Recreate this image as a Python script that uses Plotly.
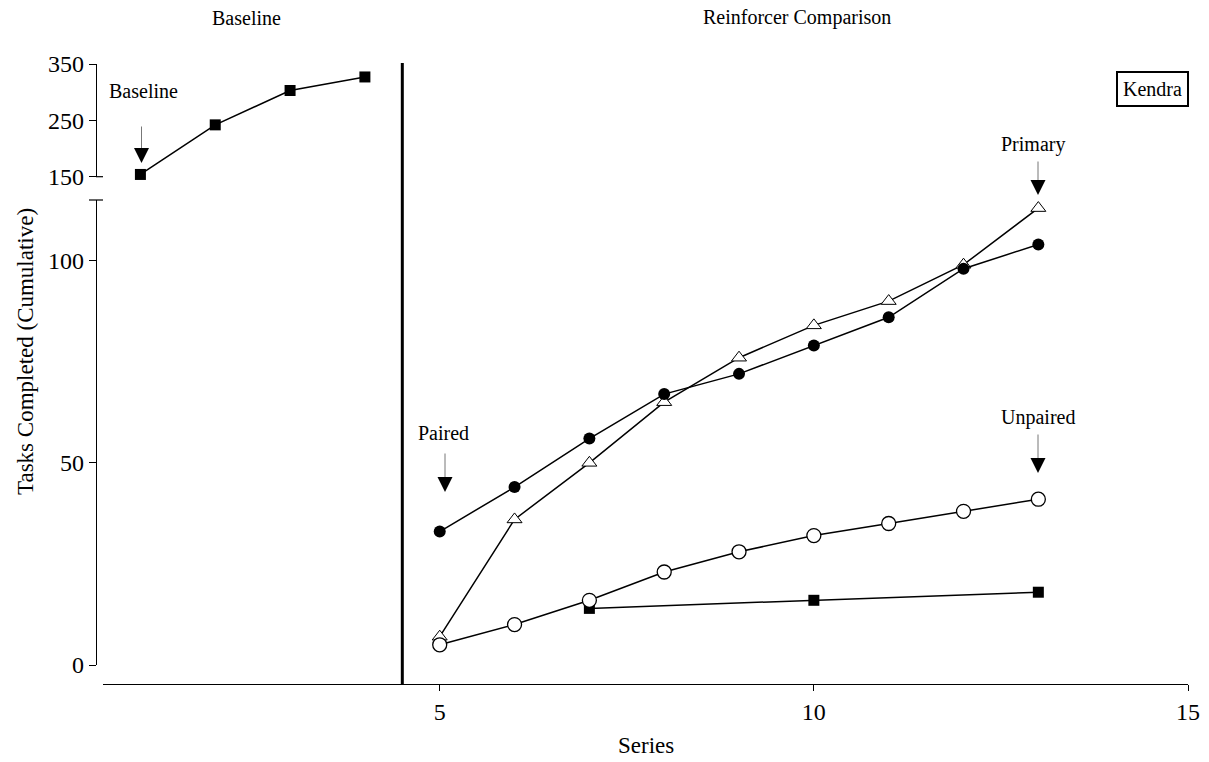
import plotly.graph_objects as go

W, H = 1209, 762
FONT = "Liberation Serif"

# ---- data ----
baseline_x = [1, 2, 3, 4]
baseline_y = [154, 242, 303, 327]

series_x = [5, 6, 7, 8, 9, 10, 11, 12, 13]
paired_y = [33, 44, 56, 67, 72, 79, 86, 98, 104]
primary_y = [7, 36, 50, 65, 76, 84, 90, 99, 113]
unpaired_y = [5, 10, 16, 23, 28, 32, 35, 38, 41]

control_x = [7, 10, 13]
control_y = [14, 16, 18]

x_ticks = [5, 10, 15]
y_low_ticks = [0, 50, 100]
y_high_ticks = [150, 250, 350]


def px(x):
    return x / W


def py(y):
    return 1 - y / H


fig = go.Figure()

line_style = dict(color="black", width=1.5)

fig.add_trace(go.Scatter(x=baseline_x, y=baseline_y, xaxis="x", yaxis="y2",
                         mode="lines+markers", line=line_style,
                         marker=dict(symbol="square", size=11, color="black"),
                         name="Baseline", showlegend=False, cliponaxis=False))
fig.add_trace(go.Scatter(x=control_x, y=control_y, mode="lines+markers", line=line_style,
                         marker=dict(symbol="square", size=11, color="black"),
                         name="Control", showlegend=False))
fig.add_trace(go.Scatter(x=series_x, y=primary_y, mode="lines+markers", line=line_style,
                         marker=dict(symbol="triangle-up", size=13, color="white",
                                     line=dict(color="black", width=1)),
                         name="Primary", showlegend=False, cliponaxis=False))
fig.add_trace(go.Scatter(x=series_x, y=paired_y, mode="lines+markers", line=line_style,
                         marker=dict(symbol="circle", size=12, color="black"),
                         name="Paired", showlegend=False, cliponaxis=False))
fig.add_trace(go.Scatter(x=series_x, y=unpaired_y, mode="lines+markers", line=line_style,
                         marker=dict(symbol="circle", size=14, color="white",
                                     line=dict(color="black", width=1.3)),
                         name="Unpaired", showlegend=False, cliponaxis=False))

tickfont = dict(family=FONT, size=24, color="black")
axis_common = dict(showgrid=False, zeroline=False, automargin=False,
                   showline=True, linecolor="black", linewidth=1.3,
                   ticks="outside", tickwidth=1.2, tickcolor="black",
                   tickfont=tickfont)

fig.update_layout(
    width=W, height=H,
    margin=dict(l=0, r=0, t=0, b=0, pad=0),
    paper_bgcolor="white", plot_bgcolor="white",
    font=dict(family=FONT, color="black"),
    xaxis=dict(domain=[px(103), px(1188)], range=[0.5, 15], anchor="free",
               position=py(684), ticklen=6, tickvals=x_ticks, **axis_common),
    yaxis=dict(domain=[py(665), py(200)], range=[0, 115], anchor="free",
               position=px(96), ticklen=7, tickvals=y_low_ticks, **axis_common),
    yaxis2=dict(domain=[py(176.7), py(64)], range=[150, 350], anchor="free",
                position=px(96), ticklen=7, tickvals=y_high_ticks, **axis_common),
)

# phase change line and axis-break caps
fig.add_shape(type="line", xref="x", yref="paper", x0=4.5, x1=4.5,
              y0=py(684), y1=py(63), line=dict(color="black", width=3))
fig.add_shape(type="line", xref="paper", yref="paper", x0=px(96), x1=px(103),
              y0=py(176.7), y1=py(176.7), line=dict(color="black", width=1.2))
fig.add_shape(type="line", xref="paper", yref="paper", x0=px(89), x1=px(103),
              y0=py(200), y1=py(200), line=dict(color="black", width=1.2))


def label(text, x, y, size=20, **kw):
    fig.add_annotation(text=text, xref="paper", yref="paper", x=px(x), y=py(y),
                       showarrow=False, xanchor="center", yanchor="middle",
                       font=dict(family=FONT, size=size, color="black"), **kw)


def arrow(x, y_tip, length):
    # thin grey shaft (ends under the head)
    fig.add_annotation(text="", xref="paper", yref="paper", x=px(x), y=py(y_tip - 8),
                       ax=0, ay=-(length - 8), showarrow=True, arrowhead=0,
                       arrowwidth=1, arrowcolor="#777")
    # solid black head
    fig.add_annotation(text="", xref="paper", yref="paper", x=px(x), y=py(y_tip),
                       ax=0, ay=-12, showarrow=True, arrowhead=2, arrowsize=3,
                       arrowwidth=1, arrowcolor="black")


label("Baseline", 246, 18, size=20)
label("Reinforcer Comparison", 797, 18, size=20)
label("Tasks Completed (Cumulative)", 25, 352, size=23, textangle=-90)
label("Series", 646, 745, size=23)

label("Baseline", 143, 91)
arrow(141.5, 163, 38)
label("Paired", 443, 433)
arrow(445, 492, 40)
label("Primary", 1033, 144)
arrow(1038, 195, 35)
label("Unpaired", 1038, 417)
arrow(1038, 473, 40)

label("Kendra", 1152, 89.5, bordercolor="black", borderwidth=2, borderpad=5,
      bgcolor="white")

fig.write_html("out.html")
